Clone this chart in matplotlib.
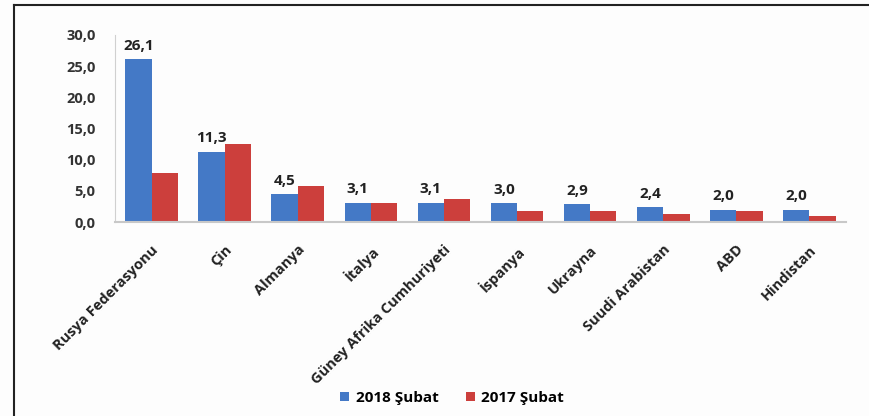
import matplotlib
matplotlib.use("Agg")
import matplotlib.pyplot as plt
from matplotlib.lines import Line2D
import numpy as np

plt.rcParams['font.family'] = ['Open Sans', 'DejaVu Sans']
plt.rcParams['font.weight'] = 'bold'

# ulkeler ve degerler
ulkeler = ["Rusya Federasyonu", "Çin", "Almanya", "İtalya", "Güney Afrika Cumhuriyeti",
           "İspanya", "Ukrayna", "Suudi Arabistan", "ABD", "Hindistan"]
subat_2018 = [26.1, 11.3, 4.5, 3.1, 3.1, 3.0, 2.9, 2.4, 2.0, 2.0]
subat_2017 = [7.9, 12.5, 5.8, 3.1, 3.7, 1.8, 1.7, 1.3, 1.7, 1.0]
seri_adlari = ["2018 Şubat", "2017 Şubat"]
y_ticks = [0, 5, 10, 15, 20, 25, 30]

mavi = "#4479C6"
kirmizi = "#CC3F3C"

fig = plt.figure(figsize=(8.69, 4.16), dpi=100)
fig.patch.set_facecolor("#fdfdfd")
ax = fig.add_axes([115 / 869, 1 - 222 / 416, (846 - 115) / 869, (222 - 35) / 416])
ax.set_facecolor("#fdfdfd")

x = np.arange(len(ulkeler))
w = 0.36
b1 = ax.bar(x - w / 2, subat_2018, w, color=mavi, label=seri_adlari[0])
b2 = ax.bar(x + w / 2, subat_2017, w, color=kirmizi, label=seri_adlari[1])

for rect, v in zip(b1, subat_2018):
    ax.text(rect.get_x() + rect.get_width() / 2, v + 1.0, f"{v:.1f}".replace(".", ","),
            ha="center", va="bottom", fontsize=11, fontweight="bold", color="#222222")

ax.set_xlim(-0.5, len(ulkeler) - 0.5)
ax.set_ylim(0, 30)
ax.set_yticks(y_ticks)
ax.set_yticklabels([f"{t:.1f}".replace(".", ",") for t in y_ticks], fontsize=10.5,
                   fontweight="bold", color="#333333")
ax.set_xticks(x)
ax.set_xticklabels(ulkeler, rotation=45, ha="right", rotation_mode="anchor",
                   fontsize=10.5, fontweight="bold", color="#222222")
ax.tick_params(axis="y", length=0, pad=14)
ax.tick_params(axis="x", length=0, pad=15)

for s in ["top", "right"]:
    ax.spines[s].set_visible(False)
ax.spines["left"].set_color("#d0d0d0")
ax.spines["bottom"].set_color("#c8c8c8")
ax.spines["bottom"].set_linewidth(1.5)

leg = fig.legend(handles=[b1, b2], loc="center", bbox_to_anchor=(452 / 869, 1 - 398 / 416),
                 ncol=2, frameon=False, fontsize=11, handlelength=0.6, handleheight=0.6,
                 handletextpad=0.4, columnspacing=1.8)

# dis cerceve
fig.add_artist(Line2D([14 / 869, 14 / 869], [0, 1 - 5 / 416], transform=fig.transFigure,
                      color="#222222", linewidth=1.5))
fig.add_artist(Line2D([14 / 869, 1], [1 - 5 / 416, 1 - 5 / 416], transform=fig.transFigure,
                      color="#222222", linewidth=1.5))

fig.savefig("out.png", dpi=100, facecolor=fig.get_facecolor())
